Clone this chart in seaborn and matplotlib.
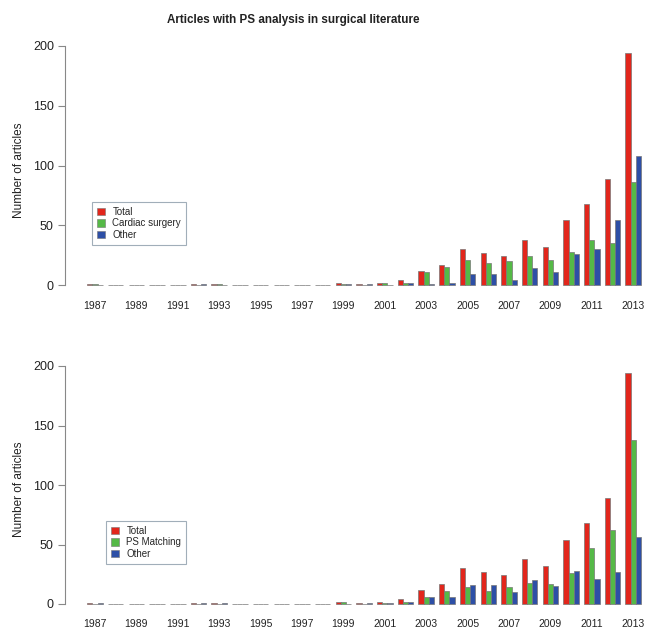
import matplotlib
matplotlib.use("Agg")
import matplotlib.pyplot as plt
import seaborn as sns
import pandas as pd
from matplotlib.patches import Patch

years = [str(y) for y in range(1987, 2014)]

top_total = [1, 0, 0, 0, 0, 1, 1, 0, 0, 0, 0, 0, 2, 1, 2, 4, 12, 17, 30, 27, 24, 38, 32, 54, 68, 89, 194]
top_cardiac = [1, 0, 0, 0, 0, 0, 1, 0, 0, 0, 0, 0, 1, 0, 2, 2, 11, 15, 21, 18, 20, 24, 21, 28, 38, 35, 86]
top_other = [0, 0, 0, 0, 0, 1, 0, 0, 0, 0, 0, 0, 1, 1, 0, 2, 1, 2, 9, 9, 4, 14, 11, 26, 30, 54, 108]

bot_total = [1, 0, 0, 0, 0, 1, 1, 0, 0, 0, 0, 0, 2, 1, 2, 4, 12, 17, 30, 27, 24, 38, 32, 54, 68, 89, 194]
bot_psm = [0, 0, 0, 0, 0, 0, 0, 0, 0, 0, 0, 0, 2, 0, 1, 2, 6, 11, 14, 11, 14, 18, 17, 26, 47, 62, 138]
bot_other = [1, 0, 0, 0, 0, 1, 1, 0, 0, 0, 0, 0, 0, 1, 1, 2, 6, 6, 16, 16, 10, 20, 15, 28, 21, 27, 56]

top_series = ["Total", "Cardiac surgery", "Other"]
bot_series = ["Total", "PS Matching", "Other"]
colors = ["#e2261c", "#55b947", "#2d4fa6"]

title = "Articles with PS analysis in surgical literature"
ylabel = "Number of articles"

sns.set_style("white")
plt.rcParams["font.family"] = ["Liberation Sans", "DejaVu Sans"]

W, H = 646, 630
fig = plt.figure(figsize=(W / 100, H / 100), dpi=100)


def make_df(series_names, arrays):
    rows = []
    for name, arr in zip(series_names, arrays):
        for y, v in zip(years, arr):
            rows.append({"year": y, "series": name, "value": v})
    return pd.DataFrame(rows)


def draw(ax_px, zero_px, top_px, series_names, arrays, legend_px):
    left, right, ybot, ytop = ax_px
    ax = fig.add_axes([left / W, 1 - ybot / H, (right - left) / W, (ybot - ytop) / H])
    df = make_df(series_names, arrays)
    sns.barplot(data=df, x="year", y="value", hue="series", order=years,
                hue_order=series_names, palette=colors, width=0.75, gap=0,
                edgecolor="#777777", linewidth=0.5, saturation=1,
                legend=False, ax=ax, errorbar=None)
    upp = 200 / (zero_px - top_px)
    ax.set_ylim(-(ybot - zero_px) * upp, 200 + (top_px - ytop) * upp)
    xpp = 20.7
    x0 = 95
    ax.set_xlim((left - x0) / xpp, (right - x0) / xpp)
    ax.set_yticks([0, 50, 100, 150, 200])
    ax.set_yticklabels(["0", "50", "100", "150", "200"])
    ax.set_xticks(list(range(0, 27, 2)))
    ax.set_xticklabels(years[::2])
    ax.tick_params(axis="x", length=0, pad=0.5, labelsize=7.5, colors="#222222")
    ax.tick_params(axis="y", direction="out", length=5, width=0.8, color="#888888",
                   pad=3, labelsize=9, labelcolor="#222222", left=True)
    for s in ["top", "right", "bottom"]:
        ax.spines[s].set_visible(False)
    ax.spines["left"].set_bounds(0, 200)
    ax.spines["left"].set_color("#888888")
    ax.spines["left"].set_linewidth(0.8)
    ax.set_xlabel("")
    ax.set_ylabel(ylabel, fontsize=8.5, color="#222222", labelpad=6)
    handles = [Patch(facecolor=c, edgecolor="#777777", linewidth=0.4) for c in colors]
    lx0, ly0, lx1, ly1 = legend_px
    leg = ax.legend(handles, series_names, loc="upper left",
                    bbox_to_anchor=((lx0 - left) / (right - left), (ybot - ly0) / (ybot - ytop)),
                    fontsize=7, frameon=True, fancybox=False, handlelength=0.8,
                    handleheight=0.8, handletextpad=0.8, labelspacing=0.15,
                    borderpad=0.5, borderaxespad=0)
    leg.get_frame().set_edgecolor("#8a9aa8")
    leg.get_frame().set_linewidth(0.8)
    return ax


draw((65, 646, 300, 40), 285, 46, top_series, [top_total, top_cardiac, top_other],
     (92, 202, 186, 246))
draw((65, 646, 618, 360), 604, 366, bot_series, [bot_total, bot_psm, bot_other],
     (106, 521, 186, 564))

fig.text(293 / W, 1 - 20 / H, title, ha="center", va="center", fontsize=8.4,
         fontweight="bold", color="#222222")

fig.savefig("out.png", dpi=100)
